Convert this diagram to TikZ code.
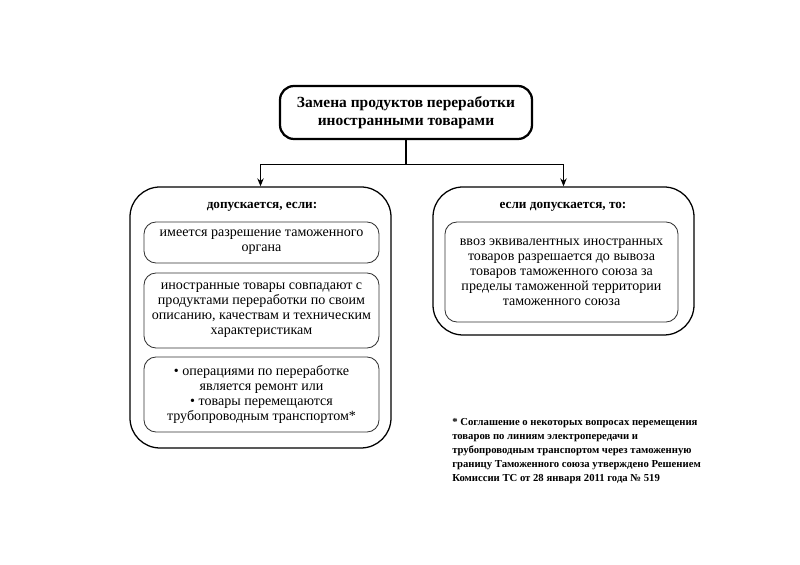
\documentclass[tikz,border=0pt]{standalone}
\usepackage{fontspec}
\setmainfont{Liberation Serif}
\usepackage{tikz}
\usetikzlibrary{arrows.meta, positioning, calc}

\begin{document}
\begin{tikzpicture}[
    head/.style={rectangle, rounded corners=10pt, draw=black, line width=1.6pt, minimum width=6.3cm, minimum height=1.325cm, font=\fontsize{11}{12.5}\selectfont\bfseries, align=center},
    group/.style={rectangle, rounded corners=0.75cm, draw=black, line width=0.9pt, minimum width=6.525cm},
    cond/.style={rectangle, rounded corners=0.3cm, draw=black!80, line width=0.6pt, minimum width=5.875cm, font=\fontsize{10}{10.6}\selectfont, align=center},
    ttl/.style={font=\fontsize{9.4}{11}\selectfont\bfseries},
    arr/.style={-{Stealth[length=2mm, width=1.6mm]}, line width=0.8pt},
    note/.style={font=\fontsize{7.6}{10}\selectfont\bfseries, align=left, anchor=north west, inner sep=0pt},
]
\useasboundingbox (0,0) rectangle (20,14.125);
\node[head] (main) at (10.15,11.3125) {Замена продуктов переработки\\иностранными товарами};
\node[group, minimum height=6.525cm] (allow) at (6.5125,6.1875) {};
\node[group, minimum height=3.7cm] (then) at (14.0875,7.6) {};
\node[ttl] (allowttl) at (6.55,8.95) {допускается, если:};
\node[ttl] (thenttl) at (14.075,8.95) {если допускается, то:};
\node[cond, minimum height=1.025cm] (permit) at (6.5375,8.0625) {имеется разрешение таможенного\\органа};
\node[cond, minimum height=1.875cm] (match) at (6.5375,6.3625) {иностранные товары совпадают с\\продуктами переработки по своим\\описанию, качествам и техническим\\характеристикам};
\node[cond, minimum height=1.875cm] (repair) at (6.5375,4.2625) {• операциями по переработке\\является ремонт или\\• товары перемещаются\\трубопроводным транспортом*};
\node[cond, minimum width=5.825cm, minimum height=2.5cm] (import) at (14.0375,7.325) {ввоз эквивалентных иностранных\\товаров разрешается до вывоза\\товаров таможенного союза за\\пределы таможенной территории\\таможенного союза};

\coordinate (fork) at ($(main.south)+(0,-0.6)$);
\draw[line width=0.8pt] (main.south) -- (fork);
\draw[arr] (fork) -| (allow.north);
\draw[arr] (fork) -| (then.north);

\node[note] (footnote) at (11.3,3.68) {* Соглашение о некоторых вопросах перемещения\\товаров по линиям электропередачи и\\трубопроводным транспортом через таможенную\\границу Таможенного союза утверждено Решением\\Комиссии ТС от 28 января 2011 года № 519};
\end{tikzpicture}
\end{document}
